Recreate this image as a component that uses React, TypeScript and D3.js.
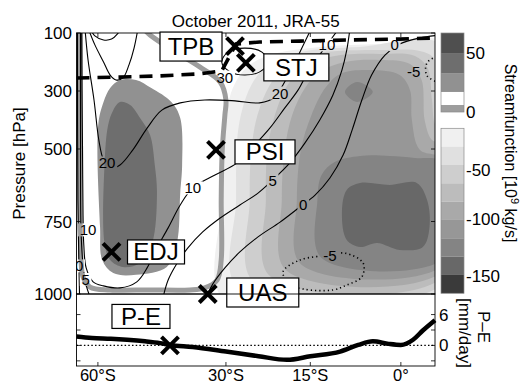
import React from 'react';
import * as d3 from 'd3';

type Pt = [number, number]; // [latitude (deg, S < 0), pressure hPa]

const W = 527;
const H = 384;

// axes
const latTicks = [-60, -30, -15, 0];
const latTickLabels = ['60°S', '30°S', '15°S', '0°'];
const pTicks = [100, 300, 500, 750, 1000];
const peTicks = [-3, 0, 3, 6];
const peLabelTicks = [6, 0];

// colour bar
const posLevels = [0, 6, 17, 33, 50, 67];
const posColors = ['#9d9d9d', '#ffffff', '#919191', '#6e6e6e', '#4f4f4f'];
const posTicks = [50, 0];
const negLevels = [0, -23, -45, -65, -83, -101, -117, -133, -149, -165];
const negColors = ['#f0f0f0', '#e0e0e0', '#cecece', '#bcbcbc', '#a9a9a9', '#979797', '#848484', '#686868', '#3a3a3a'];
const negTicks = [-50, -100, -150];

// Ferrel cell (positive streamfunction)
const ferrelOuter: Pt[] = [[-53.4, 262], [-49.2, 262], [-45.5, 290], [-41.0, 338], [-39.1, 393], [-38.7, 555], [-39.1, 652], [-39.8, 824], [-42.0, 907], [-49.2, 934], [-55.3, 928], [-58.6, 883], [-59.3, 769], [-59.9, 417], [-58.2, 338], [-56.2, 290]];
const ferrelInner: Pt[] = [[-53.4, 338], [-50.7, 348], [-48.2, 393], [-45.8, 452], [-44.7, 555], [-44.2, 652], [-45.3, 824], [-48.2, 893], [-52.6, 907], [-56.2, 883], [-57.9, 824], [-57.9, 555], [-56.8, 417], [-55.3, 366]];

// Hadley cell (negative streamfunction), one outline per colour band
const hadley0: Pt[] = [[-30.4, 1021], [-30.8, 676], [-30.6, 469], [-29.8, 366], [-28.7, 290], [-26.3, 221], [-22.0, 176], [-13.4, 148], [-3.4, 138], [7.2, 138], [7.2, 1021]];
const hadley1: Pt[] = [[-27.8, 979], [-28.1, 676], [-27.9, 469], [-27.0, 366], [-25.3, 279], [-22.4, 210], [-16.8, 166], [-6.7, 148], [7.2, 148], [7.2, 979]];
const hadley2: Pt[] = [[-24.9, 959], [-25.6, 676], [-25.3, 503], [-24.2, 383], [-22.0, 279], [-18.9, 207], [-13.4, 169], [-3.4, 159], [3.1, 162], [5.4, 186], [7.2, 297], [7.2, 959]];
const hadley3: Pt[] = [[-22.0, 938], [-22.7, 676], [-22.4, 503], [-21.1, 383], [-18.9, 279], [-15.9, 214], [-10.9, 179], [-3.4, 172], [2.3, 179], [4.4, 221], [5.1, 331], [5.7, 417], [7.2, 434], [7.2, 938]];
const hadley4: Pt[] = [[-19.2, 917], [-19.9, 676], [-19.4, 503], [-18.1, 383], [-15.9, 290], [-13.4, 234], [-9.2, 200], [-3.4, 193], [1.5, 207], [3.4, 262], [3.9, 400], [5.1, 469], [7.2, 486], [7.2, 917]];
const hadley5: Pt[] = [[-16.6, 897], [-17.3, 676], [-16.6, 503], [-14.8, 383], [-12.5, 290], [-10.0, 241], [-5.1, 228], [-0.2, 245], [1.5, 297], [1.8, 400], [3.1, 503], [7.2, 538], [7.2, 897]];
const hadley6: Pt[] = [[-13.1, 876], [-13.8, 676], [-13.1, 590], [-10.9, 545], [-6.7, 524], [-1.8, 524], [2.3, 531], [7.2, 548], [7.2, 876]];
const hadley6Upper: Pt[] = [[-9.2, 303], [-7.2, 269], [-4.6, 303], [-7.2, 338]];
const hadley7: Pt[] = [[-8.9, 641], [-6.7, 617], [-1.8, 624], [2.6, 617], [4.3, 676], [4.7, 769], [3.6, 838], [-0.2, 848], [-3.9, 824], [-6.7, 838], [-8.9, 814], [-9.7, 721]];

// zero streamfunction contour (thick grey)
const psiZero: Pt[] = [[-66.5, 90], [-66.5, 331], [-66.5, 676], [-66.1, 883], [-65.3, 941], [-62.7, 976], [-56.2, 986], [-45.8, 986], [-37.1, 986], [-34.1, 979], [-31.7, 952], [-30.9, 883], [-30.9, 676], [-30.7, 503], [-30.2, 383], [-30.0, 331], [-31.1, 269], [-35.1, 217], [-40.8, 159], [-45.8, 107], [-47.0, 90]];

// tropopause
const tropopause: Pt[] = [[-68, 255], [-53.4, 252], [-43.5, 248], [-35.1, 241], [-30.8, 231], [-29.2, 176], [-28.1, 138], [-23.8, 131], [-16.8, 128], [-8.4, 124], [-0.2, 121], [5.7, 117]];

// zonal wind contours [m/s]
const u30: Pt[] = [[-30.8, 200], [-29.6, 166], [-26.5, 152], [-23.4, 166], [-22.3, 200], [-23.8, 234], [-26.5, 245], [-29.2, 234]];
const u20: Pt[] = [[-64.5, 90], [-63.4, 193], [-61.3, 331], [-59.7, 469], [-58.2, 538], [-56.2, 566], [-53.4, 555], [-50.0, 503], [-46.5, 428], [-43.1, 366], [-39.1, 341], [-34.1, 331], [-28.3, 334], [-23.8, 341], [-21.1, 321], [-19.7, 279], [-18.1, 221], [-16.6, 159], [-14.8, 83]];
const uPolarV: Pt[] = [[-63.4, 83], [-61.0, 141], [-58.2, 200], [-56.2, 245], [-54.5, 262], [-52.6, 255], [-51.0, 210], [-49.7, 152], [-48.7, 83]];
const uPolarU: Pt[] = [[-62.7, 83], [-61.0, 110], [-58.2, 124], [-55.8, 121], [-54.1, 103], [-53.1, 83]];
const u10: Pt[] = [[-10.4, 90], [-12.2, 141], [-13.8, 186], [-15.4, 234], [-17.1, 297], [-19.4, 359], [-22.0, 428], [-24.7, 486], [-27.9, 548], [-32.1, 590], [-36.5, 634], [-39.1, 693], [-41.7, 772], [-44.5, 848], [-46.5, 910], [-49.0, 958], [-53.4, 979], [-58.2, 972], [-61.6, 958], [-64.1, 910], [-65.0, 831], [-65.3, 728], [-65.5, 503], [-65.7, 297], [-65.8, 90]];
const u5: Pt[] = [[-8.4, 90], [-8.9, 159], [-9.7, 228], [-11.2, 314], [-13.4, 400], [-15.9, 479], [-18.5, 548], [-21.5, 607], [-24.1, 652], [-27.4, 693], [-31.1, 738], [-34.5, 786], [-37.5, 841], [-40.0, 900], [-41.7, 952], [-42.8, 1010]];
const u5Polar: Pt[] = [[-66.3, 90], [-66.3, 503], [-66.1, 779], [-65.3, 900], [-64.1, 969], [-62.7, 1010]];
const u0: Pt[] = [[6.4, 107], [3.1, 117], [-0.2, 138], [-2.6, 176], [-4.8, 245], [-6.4, 331], [-8.0, 434], [-9.5, 521], [-11.7, 600], [-14.2, 659], [-16.8, 700], [-20.2, 752], [-24.1, 803], [-27.4, 855], [-30.2, 910], [-32.5, 965], [-33.5, 1000]];
const u0Polar: Pt[] = [[-67.6, 90], [-67.4, 676], [-67.0, 883], [-66.7, 1010]];
const uNeg5Upper: Pt[] = [[5.9, 183], [4.7, 193], [4.1, 214], [4.3, 248], [5.9, 269]];
const uNeg5Lower: Pt[] = [[-19.7, 924], [-16.8, 883], [-11.7, 866], [-9.2, 859], [-6.2, 893], [-6.4, 941], [-8.9, 969], [-11.2, 986], [-16.2, 983], [-18.5, 965]];

const contourLabels: [string, number, number][] = [
  ['30', -30.2, 252], ['20', -57.1, 548], ['20', -20.2, 307],
  ['10', -12.2, 141], ['10', -36.5, 634], ['10', -63.4, 779],
  ['5', -21.5, 607], ['5', -64.3, 950],
  ['0', -1.0, 140], ['0', -16.2, 693], ['0', -66.9, 903],
  ['-5', 2.1, 234], ['-5', -11.7, 866],
];

// P-E [mm/day]
const peLat = [-68, -62, -56, -51.5, -47, -43.5, -41.3, -36.5, -30, -24, -19, -15, -10, -7, -4.6, -2, 0, 2, 3.6, 5.6];
const peVal = [1.75, 1.45, 1.3, 1.1, 0.8, 0.45, 0.1, -0.3, -1.2, -2.1, -2.8, -2.1, -1.2, 0.1, 0.8, 0.3, 0.1, 1.1, 2.9, 4.9];

// tropical edge metrics
const metricNames = ['TPB', 'STJ', 'PSI', 'EDJ', 'UAS'];
const metricLat = [-28.3, -26.3, -31.9, -55.8, -33.5];
const metricP = [145, 203, 503, 855, 1000];
const peMetricLat = -41.3;

const FONT = '"Liberation Sans", Arial, Helvetica, sans-serif';

export default function App() {
  const left = 76.5, right = 435, top = 33, bottom = 294, peBottom = 366;
  const sinr = (d: number) => Math.sin((d * Math.PI) / 180);
  const xs = d3.scaleLinear().domain([sinr(-68), sinr(5.6)]).range([left, right]);
  const x = (lat: number) => xs(sinr(lat));
  const y = d3.scaleLinear().domain([100, 1000]).range([top, bottom]);
  const ype = d3.scaleLinear().domain([-4, 10]).range([peBottom, bottom]);

  const closed = d3.line<Pt>().x(d => x(d[0])).y(d => y(d[1])).curve(d3.curveCatmullRomClosed.alpha(0.5));
  const open = d3.line<Pt>().x(d => x(d[0])).y(d => y(d[1])).curve(d3.curveCatmullRom.alpha(0.5));
  const straight = d3.line<Pt>().x(d => x(d[0])).y(d => y(d[1]));
  const peLine = d3.line<number>().x((_, i) => x(peLat[i])).y(d => ype(d)).curve(d3.curveMonotoneX);

  const cbX = 441, cbW = 23;
  const posY = d3.scaleLinear().domain([0, 67]).range([112, 33]);
  const negY = d3.scaleLinear().domain(negLevels).range(negLevels.map((_, i) => 128.3 + i * 18.33));

  const hadley = [hadley0, hadley1, hadley2, hadley3, hadley4, hadley5, hadley6, hadley7];
  const solidU = [u30, u20, uPolarV, uPolarU, u10, u5, u5Polar, u0, u0Polar];

  const cross = (cx: number, cy: number, s = 8.5) =>
    `M${cx - s},${cy - s}L${cx + s},${cy + s}M${cx - s},${cy + s}L${cx + s},${cy - s}`;

  const boxes: Record<string, { dx: number; dy: number; w: number; h: number }> = {
    TPB: { dx: -75, dy: -14, w: 62, h: 29 },
    STJ: { dx: 18, dy: -9, w: 65, h: 27 },
    PSI: { dx: 19, dy: -10, w: 60, h: 24 },
    EDJ: { dx: 16, dy: -12, w: 57, h: 24 },
    UAS: { dx: 19, dy: -16, w: 72, h: 29 },
  };

  const labelBox = (name: string, bx: number, by: number, w: number, h: number) => (
    <g key={name}>
      <rect x={bx} y={by} width={w} height={h} fill="#fff" stroke="#000" strokeWidth={1.2} />
      <text x={bx + w / 2} y={by + h / 2 + 8.5} textAnchor="middle" fontSize={24}>{name}</text>
    </g>
  );

  return (
    <svg width={W} height={H} style={{ position: 'absolute', left: 0, top: 0, background: '#fff' }} fontFamily={FONT}>
      <defs>
        <clipPath id="plotClip">
          <rect x={left} y={top} width={right - left} height={bottom - top} />
        </clipPath>
        <mask id="labelGaps" maskUnits="userSpaceOnUse" x={0} y={0} width={W} height={H}>
          <rect x={0} y={0} width={W} height={H} fill="#fff" />
          {contourLabels.map(([t, la, p], i) => {
            const w = 8.6 * t.length + 3;
            return <rect key={i} x={x(la) - w / 2} y={y(p) - 6.5} width={w} height={13} fill="#000" />;
          })}
        </mask>
      </defs>

      <text x={(left + right) / 2} y={27} textAnchor="middle" fontSize={17}>October 2011, JRA-55</text>

      {/* main panel */}
      <g clipPath="url(#plotClip)">
        {hadley.map((poly, i) => (
          <path key={i} d={closed(poly) || ''} fill={negColors[i]} />
        ))}
        <path d={closed(hadley6Upper) || ''} fill={negColors[6]} />
        <path d={closed(ferrelOuter) || ''} fill={posColors[2]} />
        <path d={closed(ferrelInner) || ''} fill={posColors[3]} />
        <path d={open(psiZero) || ''} fill="none" stroke="#9d9d9d" strokeWidth={5} />
        <g mask="url(#labelGaps)" fill="none" stroke="#000">
          {solidU.map((l, i) => (
            <path key={i} d={(l === u30 ? closed(l) : open(l)) || ''} strokeWidth={1.1} />
          ))}
          <path d={open(uNeg5Upper) || ''} strokeWidth={1.6} strokeDasharray="1.2 3" />
          <path d={closed(uNeg5Lower) || ''} strokeWidth={1.6} strokeDasharray="1.2 3" />
        </g>
        {contourLabels.map(([t, la, p], i) => (
          <text key={i} x={x(la)} y={y(p) + 5.5} textAnchor="middle" fontSize={15}>{t}</text>
        ))}
        <path d={straight(tropopause) || ''} fill="none" stroke="#000" strokeWidth={3.6} strokeDasharray="13 8" />
      </g>
      <rect x={left} y={top} width={right - left} height={bottom - top} fill="none" stroke="#000" strokeWidth={0.9} />
      {pTicks.map(p => (
        <g key={p}>
          <line x1={left} x2={left + 4} y1={y(p)} y2={y(p)} stroke="#000" strokeWidth={0.8} />
          <line x1={right} x2={right - 4} y1={y(p)} y2={y(p)} stroke="#000" strokeWidth={0.8} />
          <text x={left - 4.5} y={y(p) + 6} textAnchor="end" fontSize={17}>{p}</text>
        </g>
      ))}
      {latTicks.map(l => (
        <line key={l} x1={x(l)} x2={x(l)} y1={top} y2={top + 4} stroke="#000" strokeWidth={0.8} />
      ))}
      <text transform={`translate(25,${(top + bottom) / 2}) rotate(-90)`} textAnchor="middle" fontSize={17}>Pressure [hPa]</text>

      {/* metrics in the main panel */}
      {metricNames.map((n, i) => {
        const cx = x(metricLat[i]);
        const cy = y(metricP[i]);
        const b = boxes[n];
        return (
          <g key={n}>
            <path d={cross(cx, cy)} stroke="#000" strokeWidth={4} fill="none" />
            {labelBox(n, cx + b.dx, cy + b.dy, b.w, b.h)}
          </g>
        );
      })}

      {/* P-E panel */}
      <line x1={left} x2={right} y1={ype(0)} y2={ype(0)} stroke="#000" strokeWidth={1.3} strokeDasharray="1.5 2.2" />
      <path d={peLine(peVal) || ''} fill="none" stroke="#000" strokeWidth={4.5} strokeLinejoin="round" />
      <rect x={left} y={bottom} width={right - left} height={peBottom - bottom} fill="none" stroke="#000" strokeWidth={0.9} />
      {peTicks.map(v => (
        <g key={v}>
          <line x1={left} x2={left + 4} y1={ype(v)} y2={ype(v)} stroke="#000" strokeWidth={0.8} />
          <line x1={right} x2={right - 4} y1={ype(v)} y2={ype(v)} stroke="#000" strokeWidth={0.8} />
        </g>
      ))}
      {peLabelTicks.map(v => (
        <text key={v} x={right + 4} y={ype(v) + 6} fontSize={17}>{v}</text>
      ))}
      {latTicks.map((l, i) => (
        <g key={l}>
          <line x1={x(l)} x2={x(l)} y1={peBottom} y2={peBottom - 4} stroke="#000" strokeWidth={0.8} />
          <text x={x(l)} y={380.5} textAnchor="middle" fontSize={16.5}>{latTickLabels[i]}</text>
        </g>
      ))}
      <path d={cross(x(peMetricLat), ype(0))} stroke="#000" strokeWidth={4} fill="none" />
      {labelBox('P-E', x(peMetricLat) - 58, ype(0) - 41, 58, 24)}
      <text transform={`translate(478,327) rotate(90)`} textAnchor="middle" fontSize={17}>P–E</text>
      <text transform={`translate(459,333) rotate(90)`} textAnchor="middle" fontSize={17}>[mm/day]</text>

      {/* colour bar */}
      {posColors.map((c, i) => (
        <rect key={'p' + i} x={cbX} y={posY(posLevels[i + 1])} width={cbW}
          height={posY(posLevels[i]) - posY(posLevels[i + 1])} fill={c} />
      ))}
      <rect x={cbX} y={posY(67)} width={cbW} height={posY(0) - posY(67)} fill="none" stroke="#8a8a8a" strokeWidth={0.7} />
      {negColors.map((c, i) => (
        <rect key={'n' + i} x={cbX} y={negY(negLevels[i])} width={cbW}
          height={negY(negLevels[i + 1]) - negY(negLevels[i])} fill={c} />
      ))}
      <rect x={cbX} y={negY(0)} width={cbW} height={negY(-165) - negY(0)} fill="none" stroke="#8a8a8a" strokeWidth={0.7} />
      {posTicks.map(v => (
        <text key={v} x={cbX + cbW + 2} y={posY(v) + 6} fontSize={17}>{v}</text>
      ))}
      {negTicks.map(v => (
        <text key={v} x={cbX + cbW + 2} y={negY(v) + 6} fontSize={17}>{v}</text>
      ))}
      <text transform={`translate(505,153) rotate(90)`} textAnchor="middle" fontSize={16}>
        Streamfunction [10<tspan dy={-6} fontSize={11}>9</tspan><tspan dy={6}> kg/s]</tspan>
      </text>
    </svg>
  );
}
